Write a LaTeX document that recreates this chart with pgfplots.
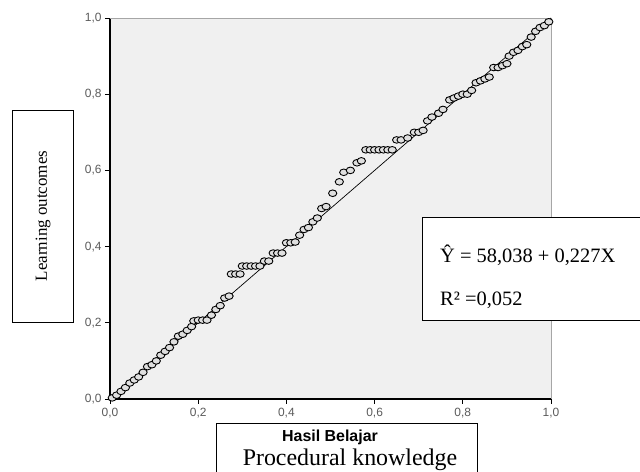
\documentclass[border=0pt]{standalone}
\usepackage{fontspec}
\setmainfont{Liberation Serif}
\newfontfamily\sans{Liberation Sans}
\usepackage{pgfplots}
\pgfplotsset{compat=1.18}

\definecolor{plotbg}{HTML}{F0F0F0}
\definecolor{ticktext}{HTML}{5A5A5A}

% P-P plot points
\pgfplotstableread{
x y
0.005 0.003
0.015 0.010
0.025 0.020
0.035 0.030
0.045 0.042
0.055 0.050
0.065 0.058
0.075 0.070
0.085 0.085
0.095 0.090
0.105 0.100
0.115 0.115
0.125 0.125
0.135 0.135
0.145 0.150
0.155 0.165
0.165 0.170
0.175 0.180
0.185 0.190
0.190 0.205
0.200 0.207
0.210 0.207
0.220 0.207
0.230 0.220
0.240 0.235
0.250 0.245
0.260 0.265
0.270 0.270
0.275 0.328
0.285 0.328
0.295 0.328
0.300 0.349
0.310 0.349
0.320 0.349
0.330 0.349
0.340 0.349
0.350 0.362
0.360 0.362
0.370 0.383
0.380 0.383
0.390 0.383
0.400 0.410
0.410 0.410
0.420 0.412
0.430 0.430
0.440 0.445
0.450 0.450
0.460 0.465
0.470 0.475
0.480 0.500
0.490 0.505
0.505 0.540
0.520 0.570
0.530 0.595
0.545 0.600
0.560 0.620
0.570 0.625
0.580 0.654
0.590 0.654
0.600 0.654
0.610 0.654
0.620 0.654
0.630 0.654
0.640 0.654
0.650 0.680
0.660 0.680
0.675 0.685
0.690 0.700
0.700 0.700
0.710 0.705
0.720 0.730
0.730 0.740
0.745 0.750
0.755 0.760
0.770 0.785
0.780 0.790
0.790 0.795
0.800 0.800
0.810 0.800
0.820 0.810
0.830 0.830
0.840 0.835
0.850 0.840
0.860 0.845
0.870 0.870
0.880 0.870
0.890 0.875
0.900 0.880
0.905 0.900
0.915 0.910
0.925 0.915
0.935 0.925
0.945 0.930
0.955 0.950
0.965 0.965
0.975 0.975
0.985 0.980
0.995 0.990
}\ppdata

\begin{document}
\begin{tikzpicture}[x=1bp, y=1bp]
\useasboundingbox (-110,-73) rectangle (530,399);
\begin{axis}[
    at={(0,0)}, anchor=south west,
    width=441bp, height=381bp, scale only axis,
    xmin=0, xmax=1, ymin=0, ymax=1,
    axis lines=left,
    axis line style={-, black, line width=1.4pt},
    axis background/.style={fill=plotbg},
    xtick={0,0.2,...,1.0}, ytick={0,0.2,...,1.0},
    tick align=outside, major tick length=5bp,
    tick style={black, line width=0.8pt},
    xticklabel={\pgfmathprintnumber[fixed, fixed zerofill, precision=1, use comma, assume math mode=true]{\tick}},
    yticklabel={\pgfmathprintnumber[fixed, fixed zerofill, precision=1, use comma, assume math mode=true]{\tick}},
    tick label style={font=\sans\fontsize{12}{14}\selectfont, text=ticktext},
    xticklabel style={yshift=-1bp},
    clip=false,
]
\draw[gray!70, line width=0.8pt] (rel axis cs:0,1) -- (rel axis cs:1,1) -- (rel axis cs:1,0);
\addplot[black, line width=0.7pt] coordinates {(0,0) (1,1)};
\addplot[only marks, mark=*, mark size=3.3bp,
    mark options={xscale=1.25, fill=plotbg!85!gray, draw=black, line width=0.9pt}]
    table[x=x, y=y] {\ppdata};
\end{axis}

% y label box
\draw[black, line width=0.8pt] (-98,77) rectangle (-37,289);
\node[rotate=90, font=\fontsize{17}{19}\selectfont] at (-67,183) {Learning outcomes};

% equation box
\fill[white] (312,79) rectangle (530,182);
\draw[black, line width=0.8pt] (530,182) -- (312,182) -- (312,79) -- (530,79);
\node[anchor=base west, font=\fontsize{20.5}{22}\selectfont, inner sep=0pt] at (330,136) {Ŷ = 58,038 + 0,227X};
\node[anchor=base west, font=\fontsize{20.5}{22}\selectfont, inner sep=0pt] at (330,93) {R² =0,052};

% x label box
\draw[black, line width=0.8pt] (106,-73) -- (106,-24) -- (367,-24) -- (367,-73);
\node[anchor=base, font=\sans\bfseries\fontsize{16}{18}\selectfont, inner sep=0pt] at (220,-43) {Hasil Belajar};
\node[anchor=base, font=\fontsize{24}{26}\selectfont, inner sep=0pt] at (240,-67) {Procedural knowledge};
\end{tikzpicture}
\end{document}
